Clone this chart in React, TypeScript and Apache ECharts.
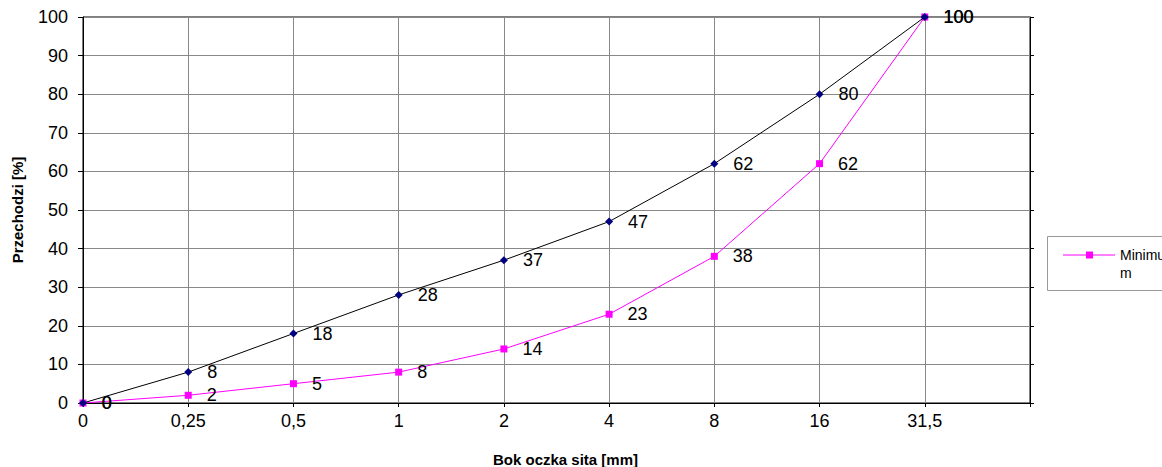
import React, { useEffect, useRef } from "react";
import * as echarts from "echarts";

const categories = ["0", "0,25", "0,5", "1", "2", "4", "8", "16", "31,5", ""];
const upperValues = [0, 8, 18, 28, 37, 47, 62, 80, 100];
const minimumValues = [0, 2, 5, 8, 14, 23, 38, 62, 100];
const yTicks = { min: 0, max: 100, interval: 10 };
const xTitle = "Bok oczka sita [mm]";
const yTitle = "Przechodzi [%]";
const legendName = "Minimum";

const FONT = 'Arial, "Liberation Sans", sans-serif';

export default function App() {
  const ref = useRef<HTMLDivElement>(null);
  useEffect(() => {
    if (!ref.current) return;
    const chart = echarts.init(ref.current, null, { renderer: "svg" });
    const labelStyle = {
      show: true,
      position: "right" as const,
      distance: 15,
      color: "#000",
      fontSize: 18,
      fontFamily: FONT,
    };
    chart.setOption({
      animation: false,
      backgroundColor: "#fff",
      textStyle: { fontFamily: FONT },
      grid: {
        left: 83,
        top: 17,
        width: 947,
        height: 386,
        show: true,
        borderColor: "#000",
        borderWidth: 1,
        backgroundColor: "transparent",
        containLabel: false,
        outerBoundsMode: "none",
      },
      xAxis: {
        type: "category",
        data: categories,
        boundaryGap: false,
        name: xTitle,
        nameLocation: "middle",
        nameGap: 49,
        nameTextStyle: {
          fontSize: 15,
          fontWeight: "bold",
          color: "#000",
          fontFamily: FONT,
          padding: [0, 0, 0, 18],
        },
        axisLine: { show: true, lineStyle: { color: "#000", width: 1 } },
        axisTick: { show: true, length: 4, alignWithLabel: true, lineStyle: { color: "#000" } },
        axisLabel: { color: "#000", fontSize: 18, fontFamily: FONT, margin: 9 },
        splitLine: { show: true, lineStyle: { color: "#888", width: 1 } },
      },
      yAxis: [
        {
          type: "value",
          min: yTicks.min,
          max: yTicks.max,
          interval: yTicks.interval,
          name: yTitle,
          nameLocation: "middle",
          nameGap: 58,
          nameTextStyle: {
            fontSize: 15,
            fontWeight: "bold",
            color: "#000",
            fontFamily: FONT,
          },
          axisLine: { show: true, lineStyle: { color: "#000", width: 1 } },
          axisTick: { show: true, length: 5, lineStyle: { color: "#000" } },
          axisLabel: { color: "#000", fontSize: 18, fontFamily: FONT, margin: 15 },
          splitLine: { show: true, lineStyle: { color: "#888", width: 1 } },
        },
        {
          type: "value",
          position: "right",
          min: yTicks.min,
          max: yTicks.max,
          interval: yTicks.interval,
          axisLine: { show: true, lineStyle: { color: "#000", width: 1 } },
          axisTick: { show: true, length: 4, lineStyle: { color: "#000" } },
          axisLabel: { show: false },
          splitLine: { show: false },
        },
      ],
      legend: { show: false },
      series: [
        {
          name: legendName,
          type: "line",
          data: minimumValues,
          symbol: "rect",
          symbolSize: 7,
          itemStyle: { color: "#FF00FF" },
          lineStyle: { color: "#FF00FF", width: 1 },
          label: labelStyle,
          z: 2,
        },
        {
          name: "Maksimum",
          type: "line",
          data: upperValues,
          symbol: "diamond",
          symbolSize: 8,
          itemStyle: { color: "#000080" },
          lineStyle: { color: "#000", width: 1 },
          label: labelStyle,
          z: 3,
        },
      ],
      graphic: [
        {
          type: "rect",
          shape: { x: 1047.5, y: 236.5, width: 140, height: 54 },
          style: { fill: "#fff", stroke: "#999", lineWidth: 1 },
        },
        {
          type: "line",
          shape: { x1: 1063, y1: 255, x2: 1115, y2: 255 },
          style: { stroke: "#FF00FF", lineWidth: 1 },
        },
        {
          type: "rect",
          shape: { x: 1086, y: 251.5, width: 7, height: 7 },
          style: { fill: "#FF00FF" },
        },
        {
          type: "text",
          x: 1120,
          y: 246,
          style: {
            text: "Minimu\nm",
            fill: "#000",
            font: `14px ${FONT}`,
            lineHeight: 18,
            verticalAlign: "top",
          },
        },
      ],
    });
    return () => chart.dispose();
  }, []);
  return (
    <div
      ref={ref}
      style={{ position: "absolute", left: 0, top: 0, width: 1162, height: 467 }}
    />
  );
}
